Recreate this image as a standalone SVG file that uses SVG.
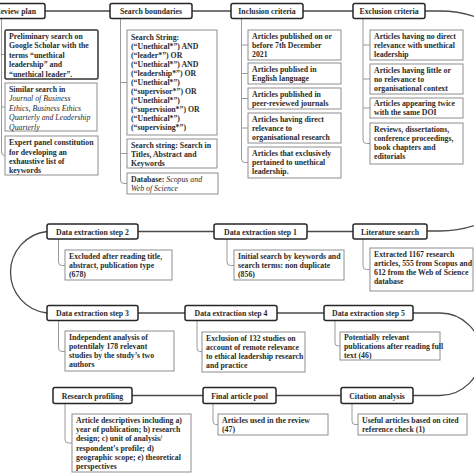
<svg xmlns="http://www.w3.org/2000/svg" width="474" height="474" viewBox="0 0 474 474">
<style>
text{font-family:"Liberation Serif","Times New Roman",serif;font-size:7.8px;font-weight:bold;fill:#2b2b2b}
.h{text-anchor:middle}
.i{font-style:italic;font-weight:normal}
.hdr{fill:#fff;stroke:#262626;stroke-width:1.5}
.box{fill:#fff;stroke:#8e8e8e;stroke-width:1}
.sel{fill:#fff;stroke:#333;stroke-width:1.5}
.main{fill:none;stroke:#4a4a4a;stroke-width:1.3}
.br{fill:none;stroke:#9a9a9a;stroke-width:1}
</style>
<rect width="474" height="474" fill="#fff"/>
<g id="connectors">
<path class="main" d="M45 11H110M192 11H231M303 11H353M425 11H440A110 110 0 0 1 440 231H427M353 231.5H307M214 231.5H138M47 231.5A41 41 0 0 0 47 313M138 313H185M277 313H324M413 313H440A41 41 0 0 1 440 395.5H413M341 395.5H276M203 395.5H132"/>
<path class="br" d="M1.5 18.5V152Q1.5 155.5 5 155.5M1.5 54.5H5M1.5 107H5"/>
<path class="br" d="M120.5 18.5V180Q120.5 183.5 124 183.5H127M120.5 82.5H127M120.5 153.5H127"/>
<path class="br" d="M241.5 18.5V159Q241.5 162.5 245 162.5H248M241.5 45H248M241.5 73.5H248M241.5 98.5H248M241.5 128H248"/>
<path class="br" d="M363 18.5V140Q363 143.5 366.5 143.5H370M363 45H370M363 79H370M363 108H370"/>
<path class="br" d="M58.5 239V262Q58.5 265.5 62 265.5H65"/>
<path class="br" d="M227 239V262Q227 265.5 230.5 265.5H234"/>
<path class="br" d="M363 239V266Q363 269.5 366.5 269.5H370"/>
<path class="br" d="M58.5 321V348Q58.5 351.5 62 351.5H65"/>
<path class="br" d="M197 321V348Q197 351.5 199.5 351.5H202"/>
<path class="br" d="M335 321V342.5Q335 346 338 346H340"/>
<path class="br" d="M65 404V439.5Q65 443 68.5 443H72"/>
<path class="br" d="M213 404V421Q213 424.5 215.5 424.5H218"/>
<path class="br" d="M352 404V421Q352 424.5 355 424.5H358"/>
</g>
<g id="review-plan"><rect class="hdr" x="-14" y="3.5" width="59" height="15" rx="2"/><text class="h" x="15.5" y="14">Review plan</text></g>
<g id="search-boundaries"><rect class="hdr" x="110" y="3.5" width="82" height="15" rx="2"/><text class="h" x="151" y="14">Search boundaries</text></g>
<g id="inclusion-criteria"><rect class="hdr" x="231" y="3.5" width="72" height="15" rx="2"/><text class="h" x="267" y="14">Inclusion criteria</text></g>
<g id="exclusion-criteria"><rect class="hdr" x="353" y="3.5" width="72" height="15" rx="2"/><text class="h" x="389" y="14">Exclusion criteria</text></g>
<g id="rp1"><rect class="sel" x="5" y="30" width="93" height="49" rx="1.5"/><text x="9" y="38.5">Preliminary search on</text><text x="9" y="48">Google Scholar with the</text><text x="9" y="57.5">terms “unethical</text><text x="9" y="67">leadership” and</text><text x="9" y="76.5">“unethical leader”.</text></g>
<g id="rp2"><rect class="box" x="5" y="83" width="92" height="48"/><text x="9" y="91.5">Similar search in</text><text class="i" x="9" y="101">Journal of Business</text><text class="i" x="9" y="110.5">Ethics, Business Ethics</text><text class="i" x="9" y="120">Quarterly and Leadership</text><text class="i" x="9" y="129.5">Quarterly</text></g>
<g id="rp3"><rect class="box" x="5" y="136" width="93" height="39"/><text x="9" y="145">Expert panel constitution</text><text x="9" y="154.5">for developing  an</text><text x="9" y="164">exhaustive list of</text><text x="9" y="173">keywords</text></g>
<g id="sb1"><rect class="box" x="127" y="30" width="90" height="105"/><text x="131" y="39.5">Search String:</text><text x="131" y="48.5">(“Unethical*”) AND</text><text x="131" y="57.5">(“leader*”) OR</text><text x="131" y="66.5">(“Unethical*”) AND</text><text x="131" y="75.5">(“leadership*”) OR</text><text x="131" y="84.5">(“Unethical*”)</text><text x="131" y="93.5">(“supervisor*”) OR</text><text x="131" y="102.5">(“Unethical*”)</text><text x="131" y="111.5">(“supervision*”) OR</text><text x="131" y="120.5">(“Unethical*”)</text><text x="131" y="129.5">(“supervising*”)</text></g>
<g id="sb2"><rect class="box" x="127" y="139" width="90" height="29"/><text x="131" y="147.5">Search string: Search in</text><text x="131" y="156.5">Titles, Abstract and</text><text x="131" y="165.5">Keywords</text></g>
<g id="sb3"><rect class="box" x="127" y="173" width="91" height="21"/><text x="131" y="181.5">Database: <tspan class="i">Scopus and</tspan></text><text class="i" x="131" y="190.5">Web of Science</text></g>
<g id="ic1"><rect class="box" x="248" y="30" width="93" height="30"/><text x="252" y="38.5">Articles published on or</text><text x="252" y="47.5">before 7th December</text><text x="252" y="56.5">2021</text></g>
<g id="ic2"><rect class="box" x="248" y="63" width="93" height="21"/><text x="252" y="71.5">Articles publised in</text><text x="252" y="80.5">English language</text></g>
<g id="ic3"><rect class="box" x="248" y="88" width="93" height="21"/><text x="252" y="96.5">Articles published in</text><text x="252" y="105.5">peer-reviewed journals</text></g>
<g id="ic4"><rect class="box" x="248" y="113" width="93" height="30"/><text x="252" y="121.5">Articles having direct</text><text x="252" y="130.5">relevance to</text><text x="252" y="139.5">organisational research</text></g>
<g id="ic5"><rect class="box" x="248" y="147" width="93" height="31"/><text x="252" y="155.5">Articles that exclusively</text><text x="252" y="164.5">pertained to unethical</text><text x="252" y="173.5">leadership.</text></g>
<g id="ec1"><rect class="box" x="370" y="30" width="93" height="30"/><text x="374" y="38.5">Articles having no direct</text><text x="374" y="47.5">relevance with unethical</text><text x="374" y="56.5">leadership</text></g>
<g id="ec2"><rect class="box" x="370" y="64" width="93" height="30"/><text x="374" y="72.5">Articles having little or</text><text x="374" y="81.5">no relevance to</text><text x="374" y="90.5">organisational context</text></g>
<g id="ec3"><rect class="box" x="370" y="98" width="93" height="20"/><text x="374" y="106">Articles appearing twice</text><text x="374" y="115">with the same DOI</text></g>
<g id="ec4"><rect class="box" x="370" y="123" width="93" height="41"/><text x="374" y="131.5">Reviews, dissertations,</text><text x="374" y="140.5">conference proceedings,</text><text x="374" y="149.5">book chapters and</text><text x="374" y="158.5">editorials</text></g>
<g id="literature-search"><rect class="hdr" x="353" y="224" width="74" height="15" rx="2"/><text class="h" x="390" y="234.5">Literature search</text></g>
<g id="ls1"><rect class="box" x="370" y="248" width="103" height="43"/><text x="374" y="256.5">Extracted 1167 research</text><text x="374" y="265.5">articles, 555 from Scopus and</text><text x="374" y="274.5">612 from the Web of Science</text><text x="374" y="283.5">database</text></g>
<g id="des1"><rect class="hdr" x="214" y="224" width="93" height="15" rx="2"/><text class="h" x="260.5" y="234.5">Data extraction step 1</text></g>
<g id="des1c"><rect class="box" x="234" y="250" width="110" height="30"/><text x="238" y="258.5">Initial search by keywords and</text><text x="238" y="267.5">search terms: non duplicate</text><text x="238" y="276.5">(856)</text></g>
<g id="des2"><rect class="hdr" x="47" y="224" width="91" height="15" rx="2"/><text class="h" x="92.5" y="234.5">Data extraction step 2</text></g>
<g id="des2c"><rect class="box" x="65" y="250" width="107" height="30"/><text x="69" y="258.5">Excluded after reading title,</text><text x="69" y="267.5">abstract, publication type</text><text x="69" y="276.5">(678)</text></g>
<g id="des3"><rect class="hdr" x="47" y="305.5" width="91" height="15" rx="2"/><text class="h" x="92.5" y="316">Data extraction step 3</text></g>
<g id="des3c"><rect class="box" x="65" y="331" width="109" height="40"/><text x="69" y="339.5">Independent analysis of</text><text x="69" y="348.5">potentilaly 178 relevant</text><text x="69" y="357.5">studies by the study’s two</text><text x="69" y="366.5">authors</text></g>
<g id="des4"><rect class="hdr" x="185" y="305.5" width="92" height="15" rx="2"/><text class="h" x="231" y="316">Data extraction step 4</text></g>
<g id="des4c"><rect class="box" x="202" y="332" width="103" height="40"/><text x="206" y="340.5">Exclusion of 132 studies on</text><text x="206" y="349.5">account of remote relevance</text><text x="206" y="358.5">to ethical leadership research</text><text x="206" y="367.5">and practice</text></g>
<g id="des5"><rect class="hdr" x="324" y="305.5" width="89" height="15" rx="2"/><text class="h" x="368.5" y="316">Data extraction step 5</text></g>
<g id="des5c"><rect class="box" x="340" y="332" width="100" height="28"/><text x="344" y="340">Potentially relevant</text><text x="344" y="349">publications after reading full</text><text x="344" y="358">text (46)</text></g>
<g id="citation-analysis"><rect class="hdr" x="341" y="387.5" width="72" height="16" rx="2"/><text class="h" x="377" y="398.5">Citation analysis</text></g>
<g id="ca1"><rect class="box" x="358" y="414" width="109" height="21"/><text x="362" y="422.5">Useful articles based on cited</text><text x="362" y="431.5">reference check (1)</text></g>
<g id="final-article-pool"><rect class="hdr" x="203" y="387.5" width="73" height="16" rx="2"/><text class="h" x="239.5" y="398.5">Final article pool</text></g>
<g id="fap1"><rect class="box" x="218" y="414" width="110" height="21"/><text x="222" y="422.5">Articles used in the review</text><text x="222" y="431.5">(47)</text></g>
<g id="research-profiling"><rect class="hdr" x="53" y="387.5" width="79" height="16" rx="2"/><text class="h" x="92.5" y="398.5">Research profiling</text></g>
<g id="rpf1"><rect class="box" x="72" y="414" width="119" height="58"/><text x="76" y="423">Article descriptives including a)</text><text x="76" y="432.2">year of publication; b) research</text><text x="76" y="441.4">design; c) unit of analysis/</text><text x="76" y="450.6">respondent’s profile; d)</text><text x="76" y="459.8">geographic scope; e) theoretical</text><text x="76" y="469">perspectives</text></g>
</svg>
